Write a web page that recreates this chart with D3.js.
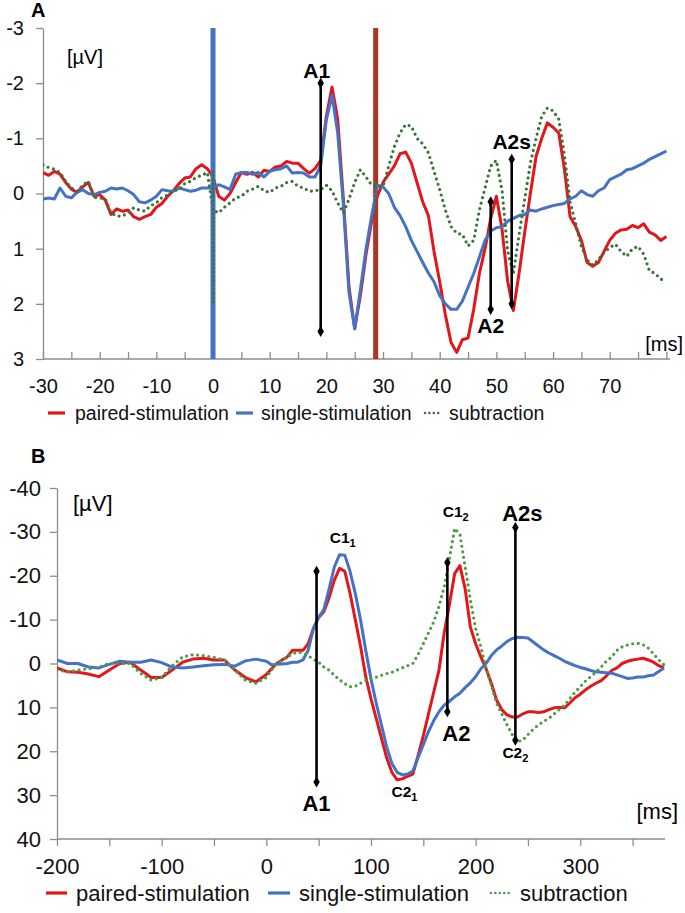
<!DOCTYPE html>
<html><head><meta charset="utf-8">
<script src="https://cdn.jsdelivr.net/npm/d3@7"></script>
<style>
body{margin:0;background:#fff}
svg{display:block}
text{font-family:"Liberation Sans",Arial,Helvetica,sans-serif}
</style>
</head><body>
<svg id="c" width="685" height="913"></svg>
<script>
// ---------------- DATA ----------------
const seriesNames = ["paired-stimulation", "single-stimulation", "subtraction"];

// Panel A (ms, µV; negative up)
const tA = d3.range(-30, 81, 1);
const pairedA = [
  -0.38,-0.33,-0.40,-0.35,-0.2,-0.08,-0.02,-0.12,-0.2,0.05,
  0.02,0.12,0.38,0.28,0.32,0.3,0.42,0.47,0.42,0.38,
  0.25,0.18,0.05,-0.05,-0.18,-0.28,-0.3,-0.45,-0.52,-0.45,
  -0.3,0.05,0.12,0.0,-0.2,-0.38,-0.35,-0.38,-0.3,-0.42,
  -0.4,-0.48,-0.5,-0.58,-0.55,-0.55,-0.45,-0.37,-0.45,-0.6,
  -1.4,-1.93,-1.35,0.1,1.7,2.45,1.85,1.1,0.5,0.05,
  -0.2,-0.35,-0.5,-0.72,-0.75,-0.55,-0.2,0.15,0.4,1.05,
  1.6,2.2,2.7,2.88,2.65,2.62,2.1,1.45,1.0,0.45,
  0.05,0.65,1.6,2.12,1.45,0.7,0.0,-0.67,-1.0,-1.28,
  -1.2,-1.1,-0.45,0.42,0.6,0.85,1.25,1.32,1.25,1.05,
  0.85,0.72,0.66,0.65,0.58,0.62,0.55,0.7,0.75,0.85,0.78
];
const singleA = [
  0.1,0.08,0.1,-0.1,0.05,0.08,-0.02,-0.07,0.0,0.02,
  -0.02,-0.04,-0.1,-0.08,-0.1,-0.05,0.02,0.15,0.17,0.12,
  0.05,-0.07,-0.05,-0.04,-0.1,-0.07,-0.04,-0.06,-0.1,-0.1,
  -0.1,-0.16,-0.12,-0.07,-0.35,-0.38,-0.38,-0.35,-0.38,-0.3,
  -0.4,-0.43,-0.45,-0.5,-0.37,-0.38,-0.37,-0.3,-0.3,-0.5,
  -1.34,-1.78,-1.1,0.2,1.8,2.45,1.75,1.0,0.4,-0.15,
  -0.12,0.0,0.25,0.4,0.6,0.85,1.05,1.25,1.44,1.6,
  1.85,2.0,2.1,2.1,1.95,1.7,1.45,1.15,0.85,0.68,
  0.62,0.6,0.5,0.45,0.4,0.38,0.3,0.32,0.28,0.25,
  0.22,0.2,0.18,0.1,0.05,-0.05,0.02,0.05,-0.05,-0.1,
  -0.25,-0.3,-0.35,-0.43,-0.45,-0.5,-0.55,-0.62,-0.67,-0.72,-0.77
];
const subtractionA = [
  -0.52,-0.47,-0.44,-0.38,-0.22,-0.1,-0.04,-0.15,-0.22,0.07,
  0.08,0.1,0.35,0.41,0.41,0.35,0.26,0.3,0.32,0.22,
  0.17,0.07,0.03,-0.05,-0.07,-0.18,-0.22,-0.29,-0.33,-0.38,
  0.3,0.35,0.25,0.17,0.08,0.05,-0.04,-0.08,-0.13,-0.05,
  -0.02,-0.1,-0.13,-0.2,-0.22,-0.13,-0.1,-0.04,-0.05,-0.07,
  -0.15,-0.05,0.17,0.35,0.1,-0.2,-0.43,-0.3,-0.15,-0.13,
  -0.13,-0.5,-0.85,-1.1,-1.25,-1.22,-1.0,-0.9,-0.74,-0.4,
  -0.07,0.3,0.6,0.72,0.74,0.95,0.85,0.3,-0.1,-0.5,
  -0.6,-0.05,1.05,1.45,0.75,0.1,-0.55,-1.0,-1.4,-1.55,
  -1.5,-1.35,-0.7,0.15,0.55,0.96,1.2,1.3,1.2,1.07,
  0.98,0.92,1.05,1.14,1.0,0.96,1.1,1.4,1.45,1.55,1.6
];
// stimulus artifacts in panel A (vertical segments)
const artifactTimesA  = [0, 28.7, 28.7, 0];
const artifactFromA   = [-3, -3, -3, -0.4];
const artifactToA     = [3, 3, 3, 2.0];
const artifactSeriesA = [1, 0, 2, 2];

const xTicksA = d3.range(-30, 81, 5);
const xLabelsA = [-30, -20, -10, 0, 10, 20, 30, 40, 50, 60, 70];
const yTicksA = [-3, -2, -1, 0, 1, 2, 3];

const annotNamesA = ["A1", "A2", "A2s"];
const annotTimesA = [19, 49, 52.7];
const annotFromA  = [-2.0, 0.15, -0.62];
const annotToA    = [2.5, 2.1, 2.0];

// Panel B
const tB = d3.range(-200, 1, 10).concat(d3.range(5, 381, 5));
const pairedB = [
  1.0,1.9,2.0,2.4,3.0,1.5,0,-0.3,1.5,3.2,3.2,1.5,-0.3,-1.0,-1.2,-0.8,-0.8,1.5,3.2,4.2,2.5,
  1.2,0,-0.8,-1.5,-3,-3,-3,-4.5,-8,-10.5,
  -11.8,-15,-19,-21.7,-21,-16,-10,-4,3,8,
  12.5,17,21.5,24.8,26.5,26.3,25.7,25.2,21,16.5,
  11.5,6.5,1.5,-7,-13.5,-20.5,-22.3,-17,-8.3,-4.5,
  -1.5,1.2,4.5,8.3,10.5,11.7,12.2,12.2,11.5,11,
  11,11.2,11,10.5,10.1,10,10.1,9,7.8,7,
  6,5.2,4.5,3.9,2.8,1.6,1,0,-0.5,-0.8,
  -1,-1.2,-0.8,-0.3,0.5,1.0
];
const singleB = [
  -0.8,0,0,0.8,1.0,0.2,-0.5,-0.3,-0.3,-0.8,-0.2,0.8,1.0,0.8,0.5,0.3,0.2,0.6,-0.6,-1.0,-0.5,
  0.3,0.2,0.1,0,-0.3,-0.3,-0.8,-3,-8,-10.5,
  -12.3,-17,-22,-24.8,-24.7,-21,-16,-10,-3,3.5,
  9,14,19,22.8,24.8,25.4,25.2,24.5,21.5,18.5,
  15.5,13,11,9.5,8.6,7.6,6.8,5.5,4.4,3.0,
  1.2,0,-1.8,-3.1,-4,-5,-5.7,-6,-5.9,-5.8,
  -4.9,-4,-3.1,-2.4,-1.8,-1.2,-0.5,0,0.5,0.9,
  1.2,1.6,1.9,2.0,2.1,2.2,2.6,3.0,3.4,3.3,
  3.1,3.1,2.8,2.6,1.8,1.0
];
const subtractionB = [
  1.5,1.9,1.5,1.2,0.8,0,0,0,2.3,3.8,3.2,0.5,-1.5,-2,-1.8,-1.4,-0.8,1.5,3.8,4.5,3.2,
  1.5,0,-0.8,-1.5,-2.2,-2.6,-2.4,-1.8,-1,-0.3,
  0.8,1.5,2.7,3.7,4.6,5.3,5.2,4.5,3.8,3.4,
  3.1,2.7,2.3,2,1.5,1,0.5,0,-2,-4.5,
  -7,-9.5,-13,-17.5,-24,-30.8,-29.5,-22,-14.5,-8,
  -3.8,1,5,9,11.5,14,16.2,17.8,17.5,16.2,
  15,14,13.2,12.5,11.5,10.5,9.5,8,6.5,5.3,
  4,3,2,0.8,-0.5,-1.5,-3,-3.8,-4.2,-4.5,
  -4.6,-4.3,-3.5,-2.2,-0.8,0.3
];
const xTicksB = d3.range(-200, 351, 50);
const xLabelsB = [-200, -100, 0, 100, 200, 300];
const yTicksB = [-40, -30, -20, -10, 0, 10, 20, 30, 40];

const annotNamesB = ["A1", "A2", "A2s"];
const annotTimesB = [48, 173, 238];
const annotFromB  = [-21, -23, -31];
const annotToB    = [27, 11, 17.5];

const peakBaseB = ["C1", "C1", "C2", "C2"];
const peakSubB  = ["1", "2", "1", "2"];
const peakTimesB = [73, 181, 132, 238];
const peakValsB  = [-27.5, -33.5, 30.5, 21.5];

// ---------------- DRAWING ----------------
const svg = d3.select("#c");
const RED = "#e3161c", BLUE = "#4472c4";
const AXIS = "#8c8c8c";

function drawPanel(o) {
  const x = d3.scaleLinear().domain(o.xDomain).range(o.xRange);
  const y = d3.scaleLinear().domain(o.yDomain).range(o.yRange);
  const colors = [RED, BLUE, o.green];
  const g = svg.append("g");
  const clipId = "clip" + o.id;
  svg.append("clipPath").attr("id", clipId).append("rect")
    .attr("x", o.xRange[0]).attr("y", o.yRange[0])
    .attr("width", o.xRange[1] - o.xRange[0] + 4).attr("height", o.yRange[1] - o.yRange[0]);

  // axes
  const xa = g.append("g").attr("transform", `translate(0,${o.yRange[1]})`)
    .call(d3.axisBottom(x).tickValues(o.xTicks).tickSizeInner(o.xTick).tickSizeOuter(0)
      .tickPadding(o.xPad).tickFormat(d => o.xLabels.includes(d) ? d : ""));
  const ya = g.append("g").attr("transform", `translate(${o.xRange[0]},0)`)
    .call(d3.axisLeft(y).tickValues(o.yTicks).tickSizeInner(7).tickSizeOuter(0)
      .tickPadding(o.yPad).tickFormat(d => d));
  [xa, ya].forEach(a => {
    a.select(".domain").attr("stroke", AXIS).attr("stroke-width", 1.3);
    a.selectAll(".tick line").attr("stroke", AXIS).attr("stroke-width", 1.3);
    a.selectAll(".tick text").attr("fill", "#111").style("font-size", o.tickFs + "px")
      .style("font-family", '"Liberation Sans",Arial,sans-serif');
  });
  xa.select(".domain").attr("d", `M${o.xRange[0]},0H${o.xAxisEnd}`);

  const plot = g.append("g").attr("clip-path", `url(#${clipId})`);
  const line = d3.line().x(d => x(d[0])).y(d => y(d[1])).curve(d3.curveLinear);

  if (o.art) {
    o.art.times.forEach((t, i) => {
      const s = o.art.series[i];
      if (s !== 0) return;
      plot.append("line").attr("x1", x(t)).attr("x2", x(t))
        .attr("y1", y(o.art.from[i])).attr("y2", y(o.art.to[i]))
        .attr("stroke", colors[s]).attr("stroke-width", 5);
    });
  }

  const series = [o.paired, o.single, o.sub];
  [0, 1, 2].forEach(i => {
    const pts = d3.zip(o.t, series[i]);
    const p = plot.append("path").datum(pts).attr("d", line)
      .attr("fill", "none").attr("stroke", colors[i]);
    if (i === 2) p.attr("stroke-width", 3.2).attr("stroke-dasharray", "0 5.6").attr("stroke-linecap", "round");
    else p.attr("stroke-width", 3).attr("stroke-linejoin", "round");
  });
  if (o.art) {
    o.art.times.forEach((t, i) => {
      if (o.art.series[i] !== 1) return;
      plot.append("line").attr("x1", x(t)).attr("x2", x(t))
        .attr("y1", y(o.art.from[i])).attr("y2", y(o.art.to[i]))
        .attr("stroke", colors[1]).attr("stroke-width", 5);
    });
    o.art.times.forEach((t, i) => {
      if (o.art.series[i] !== 2) return;
      plot.append("line").attr("x1", x(t)).attr("x2", x(t))
        .attr("y1", y(o.art.from[i])).attr("y2", y(o.art.to[i]))
        .attr("stroke", colors[2]).attr("stroke-width", 3)
        .attr("stroke-dasharray", "0 4.2").attr("stroke-linecap", "round");
    });
  }

  // annotation arrows
  const diamond = d3.symbol().type(d3.symbolDiamond).size(36);
  o.ann.names.forEach((n, i) => {
    const xx = x(o.ann.times[i]);
    g.append("line").attr("x1", xx).attr("x2", xx)
      .attr("y1", y(o.ann.from[i])).attr("y2", y(o.ann.to[i]))
      .attr("stroke", "#000").attr("stroke-width", 2.6);
    [o.ann.from[i], o.ann.to[i]].forEach(v => {
      g.append("path").attr("d", diamond).attr("transform", `translate(${xx},${y(v)})`).attr("fill", "#000");
    });
    const lp = o.annLabelPos[i];
    g.append("text").attr("x", xx + lp[0]).attr("y", lp[1])
      .attr("text-anchor", "middle").attr("font-weight", "bold")
      .style("font-size", o.annFs + "px").text(n);
  });

  // unit labels
  g.append("text").attr("x", o.uvPos[0]).attr("y", o.uvPos[1]).style("font-size", o.unitFs + "px").text("[µV]");
  g.append("text").attr("x", o.msPos[0]).attr("y", o.msPos[1]).attr("text-anchor", "end")
    .style("font-size", o.unitFs + "px").text("[ms]");
  g.append("text").attr("x", o.letterPos[0]).attr("y", o.letterPos[1])
    .attr("font-weight", "bold").style("font-size", "20px").text(o.letter);

  // legend
  const lg = g.append("g");
  o.legend.forEach((L, i) => {
    const ln = lg.append("line").attr("x1", L[0]).attr("x2", L[1])
      .attr("y1", o.legendY).attr("y2", o.legendY).attr("stroke", colors[i]);
    if (i === 2) ln.attr("stroke-width", 2.6).attr("stroke-dasharray", "0 4.4").attr("stroke-linecap", "round");
    else ln.attr("stroke-width", 3.2);
    lg.append("text").attr("x", L[2]).attr("y", o.legendY + o.legendFs * 0.36)
      .style("font-size", o.legendFs + "px").attr("fill", "#111").text(seriesNames[i]);
  });
  return { x, y, g };
}

drawPanel({
  id: "A", letter: "A", letterPos: [31, 17],
  xDomain: [-30, 80], xRange: [43, 666.4], xAxisEnd: 670,
  yDomain: [-3, 3], yRange: [28, 359],
  xTicks: xTicksA, xLabels: xLabelsA, yTicks: yTicksA,
  xTick: -7, xPad: 20, yPad: 12, tickFs: 20, unitFs: 20,
  t: tA, paired: pairedA, single: singleA, sub: subtractionA,
  green: "#3b7236",
  art: { times: artifactTimesA, from: artifactFromA, to: artifactToA, series: artifactSeriesA },
  ann: { names: annotNamesA, times: annotTimesA, from: annotFromA, to: annotToA },
  annLabelPos: [[-4, 78], [0, 333], [0, 149]], annFs: 21,
  uvPos: [67, 64], msPos: [683, 351],
  legend: [[48, 65, 75], [236, 253, 261], [425, 441, 449]], legendY: 413, legendFs: 19.5
});

const pB = drawPanel({
  id: "B", letter: "B", letterPos: [31, 463],
  xDomain: [-200, 380], xRange: [57, 664], xAxisEnd: 665,
  yDomain: [-40, 40], yRange: [488, 839],
  xTicks: xTicksB, xLabels: xLabelsB, yTicks: yTicksB,
  xTick: 7, xPad: 12, yPad: 9, tickFs: 22, unitFs: 22,
  t: tB, paired: pairedB, single: singleB, sub: subtractionB,
  green: "#4c9a45",
  art: null,
  ann: { names: annotNamesB, times: annotTimesB, from: annotFromB, to: annotToB },
  annLabelPos: [[0, 811], [9, 741], [7, 521]], annFs: 22,
  uvPos: [73, 511], msPos: [678, 819],
  legend: [[46, 67, 76], [268, 290, 299], [491, 511, 520]], legendY: 893, legendFs: 22
});

// peak labels C1_1, C1_2, C2_1, C2_2
peakBaseB.forEach((b, i) => {
  const t = pB.g.append("text").attr("x", pB.x(peakTimesB[i])).attr("y", pB.y(peakValsB[i]))
    .attr("text-anchor", "middle").attr("font-weight", "bold").style("font-size", "15.5px");
  t.append("tspan").text(b);
  t.append("tspan").attr("dy", 4).style("font-size", "11px").text(peakSubB[i]);
});
</script>
</body></html>
